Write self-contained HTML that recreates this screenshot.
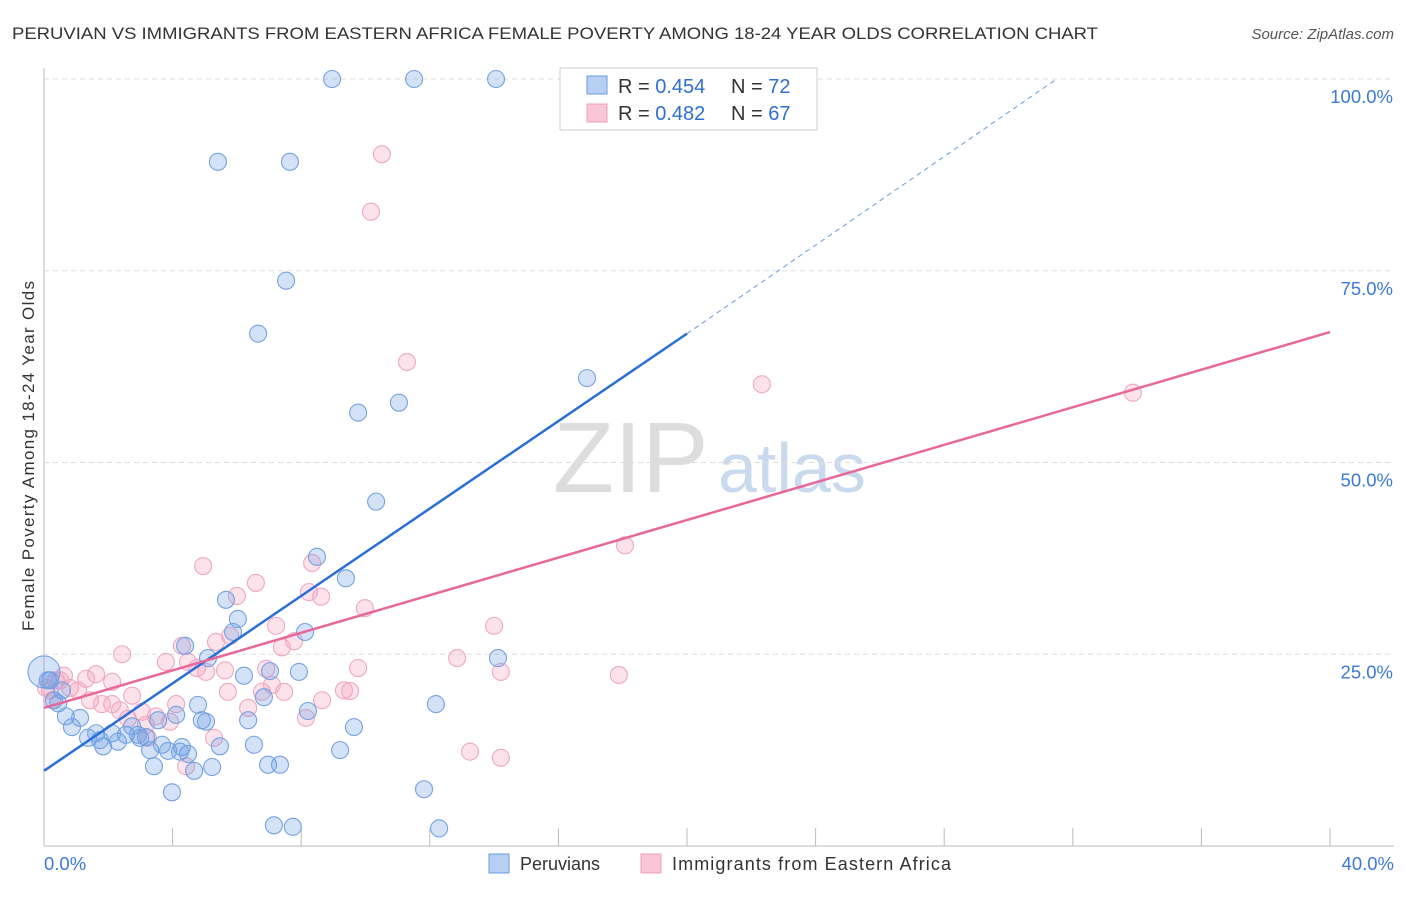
<!DOCTYPE html>
<html><head><meta charset="utf-8"><style>
body{margin:0;background:#fff;font-family:"Liberation Sans",sans-serif;}
svg text{font-family:"Liberation Sans",sans-serif;}
</style></head><body>
<svg id="chart" width="1406" height="892">
<text x="12" y="39" font-size="17" fill="#333" textLength="1086" lengthAdjust="spacingAndGlyphs">PERUVIAN VS IMMIGRANTS FROM EASTERN AFRICA FEMALE POVERTY AMONG 18-24 YEAR OLDS CORRELATION CHART</text>
<text x="1394" y="39" font-size="15" fill="#555" font-style="italic" text-anchor="end">Source: ZipAtlas.com</text>
<text x="34" y="456" font-size="17" fill="#333" text-anchor="middle" textLength="350" transform="rotate(-90 34 456)">Female Poverty Among 18-24 Year Olds</text>
<text x="553" y="492" font-size="100" fill="#ddd" font-family="Liberation Serif">ZIP</text>
<text x="718" y="492" font-size="70" fill="#c9d9ee">atlas</text>
<g id="grid"></g><g id="pts"></g><g id="lines"></g>
<g>
<rect x="560" y="68" width="257" height="62" fill="#fff" stroke="#ccc"/>
<rect x="587" y="76" width="20" height="18" fill="#b6cff3" stroke="#6a9be0"/>
<text x="618" y="93" font-size="20" fill="#333">R = <tspan fill="#2f6fd4">0.454</tspan></text>
<text x="731" y="93" font-size="20" fill="#333">N = <tspan fill="#2f6fd4">72</tspan></text>
<rect x="587" y="104" width="20" height="18" fill="#f8c6d6" stroke="#eda0bb"/>
<text x="618" y="120" font-size="20" fill="#333">R = <tspan fill="#2f6fd4">0.482</tspan></text>
<text x="731" y="120" font-size="20" fill="#333">N = <tspan fill="#2f6fd4">67</tspan></text>
</g>
<g>
<rect x="489" y="854" width="20" height="19" fill="#b6cff3" stroke="#6a9be0"/>
<text x="520" y="870" font-size="18" fill="#333">Peruvians</text>
<rect x="641" y="854" width="20" height="19" fill="#f8c6d6" stroke="#eda0bb"/>
<text x="672" y="870" font-size="18" fill="#333" textLength="279">Immigrants from Eastern Africa</text>
</g>
</svg>
<script>
const xTicks=[0,40];
const yTicks=[25,50,75,100];
const blueX=[],blueY=[],pinkX=[],pinkY=[];
const bluePx=[[332,79],[414,79],[496,79],[218,162],[290,162],[286,281],[258,334],[358,413],[399,403],[587,378],[376,502],[317,557],[346,578],[226,600],[238,619],[233,632],[305,632],[185,646],[208,658],[498,658],[244,676],[270,671],[299,672],[264,697],[198,705],[308,711],[436,704],[176,715],[54,700],[50,680],[58,703],[66,716],[72,727],[80,718],[88,738],[96,733],[103,746],[112,733],[118,742],[126,735],[132,726],[138,735],[146,737],[150,750],[158,720],[162,745],[168,751],[182,747],[188,754],[194,771],[202,720],[220,746],[154,766],[172,792],[212,767],[248,720],[254,745],[268,765],[280,765],[340,750],[354,727],[424,789],[274,825],[293,827],[439,828],[48,680],[62,690],[100,740],[140,738],[180,752],[206,722],[44,672]];
const pinkPx=[[382,154],[371,212],[407,362],[762,384],[1133,393],[625,545],[203,566],[256,583],[237,596],[312,563],[309,592],[321,597],[365,608],[494,626],[276,626],[230,636],[294,641],[182,646],[216,642],[282,647],[122,654],[166,662],[188,662],[197,668],[206,672],[225,670],[266,669],[358,668],[457,658],[501,672],[619,675],[96,674],[86,679],[64,676],[56,680],[70,688],[78,690],[50,690],[112,682],[132,696],[228,692],[262,692],[284,692],[322,700],[344,690],[350,691],[272,685],[102,704],[112,704],[176,704],[248,708],[306,718],[142,712],[156,716],[128,719],[146,725],[170,722],[148,738],[214,738],[186,766],[470,752],[501,758],[52,700],[60,680],[46,688],[90,700],[120,710]];
// convert estimated readings to data units (percent)
bluePx.forEach(p=>{blueX.push(+((p[0]-44)/1286*40).toFixed(2));blueY.push(+((846-p[1])/767*100).toFixed(1));});
pinkPx.forEach(p=>{pinkX.push(+((p[0]-44)/1286*40).toFixed(2));pinkY.push(+((846-p[1])/767*100).toFixed(1));});
const blueLine=[[0,9.8],[20,66.8],[31.5,100]];
const pinkLine=[[0,18],[40,67]];
const sx=v=>44+v/40*1286, sy=v=>846-v/100*767;
const NS="http://www.w3.org/2000/svg";
function mk(tag,attrs,parent){const e=document.createElementNS(NS,tag);for(const k in attrs)e.setAttribute(k,attrs[k]);parent.appendChild(e);return e;}
const grid=document.getElementById('grid'),pts=document.getElementById('pts'),lines=document.getElementById('lines');
mk('line',{x1:44,y1:68,x2:44,y2:846,stroke:'#bbb'},grid);
mk('line',{x1:44,y1:846,x2:1394,y2:846,stroke:'#bbb'},grid);
yTicks.forEach(t=>{
const l=mk('line',{x1:44,y1:sy(t),x2:1394,y2:sy(t),stroke:'#ddd','stroke-dasharray':'5,4'},grid);


const tx=mk('text',{x:1393,y:sy(t)+24,'font-size':18.5,fill:'#3c7ad8','text-anchor':'end'},grid);tx.textContent=t.toFixed(1)+'%';


});
for(let i=1;i<=10;i++){const x=sx(i*4);const l=mk('line',{x1:x,y1:828,x2:x,y2:846,stroke:'#bbb'},grid);

}
xTicks.forEach((t,i)=>{const tx=mk('text',{x:i?1394:44,y:870,'font-size':18.5,fill:'#3c7ad8','text-anchor':i?'end':'start'},grid);tx.textContent=t.toFixed(1)+'%';

});
pinkX.forEach((x,i)=>{const c=mk('circle',{cx:sx(x),cy:sy(pinkY[i]),r:8.5,fill:'rgba(245,160,190,0.3)',stroke:'#efa8c0','stroke-width':1.1},pts);

});
blueX.forEach((x,i)=>{const c=mk('circle',{cx:sx(x),cy:sy(blueY[i]),r:i==blueX.length-1?16:8.5,fill:'rgba(110,160,230,0.3)',stroke:'#74a2e2','stroke-width':1.1},pts);

});
let l=mk('line',{x1:sx(blueLine[0][0]),y1:sy(blueLine[0][1]),x2:sx(blueLine[1][0]),y2:sy(blueLine[1][1]),stroke:'#2a6fd6','stroke-width':2.5},lines);


l=mk('line',{x1:sx(blueLine[1][0]),y1:sy(blueLine[1][1]),x2:sx(blueLine[2][0]),y2:sy(blueLine[2][1]),stroke:'#6a9be0','stroke-width':1,'stroke-dasharray':'5,4'},lines);


l=mk('line',{x1:sx(pinkLine[0][0]),y1:sy(pinkLine[0][1]),x2:sx(pinkLine[1][0]),y2:sy(pinkLine[1][1]),stroke:'#e8689a','stroke-width':2.5},lines);


</script>
</body></html>
